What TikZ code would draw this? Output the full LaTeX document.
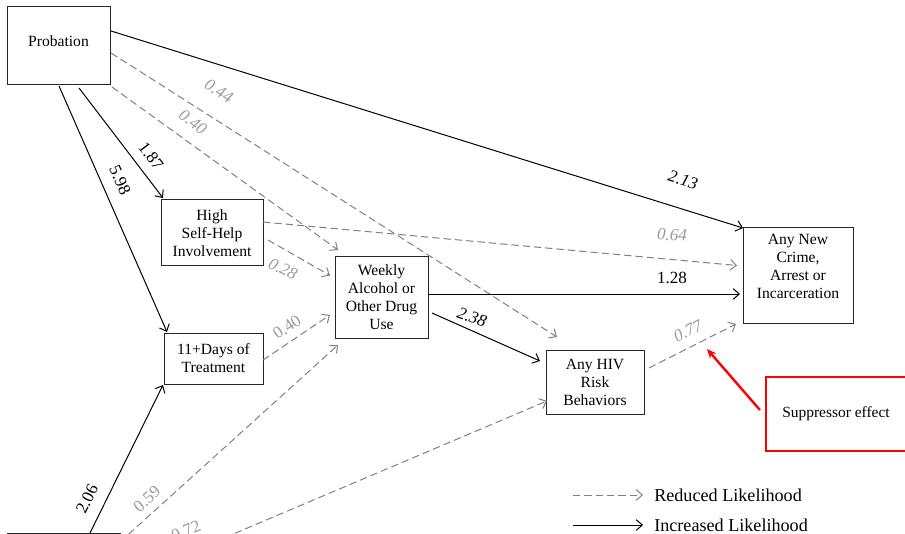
\documentclass[tikz,border=0pt]{standalone}
\usepackage{fontspec}
\setmainfont{Liberation Serif}
\usetikzlibrary{arrows.meta,calc}
\definecolor{dashgray}{HTML}{808080}
\definecolor{lblgray}{HTML}{9A9A9A}

\begin{document}
\begin{tikzpicture}[x=0.75pt,y=-0.75pt,
  box/.style={draw=black!85,line width=0.75pt,inner sep=0pt,outer sep=0pt,align=center,font=\fontsize{11.7}{13.5}\selectfont},
  inc/.style={line width=0.75pt,-{Straight Barb[length=4.5pt,width=8pt]}},
  decr/.style={dashgray,line width=0.75pt,dash pattern=on 5.5pt off 3pt,-{Straight Barb[length=4.5pt,width=8pt]}},
  wt/.style={inner sep=0pt,font=\fontsize{12.8}{14}\selectfont},
  gwt/.style={wt,text=lblgray},
  legend/.style={inner sep=0pt,anchor=west,font=\fontsize{13.6}{15}\selectfont}]
  \useasboundingbox (0,0) rectangle (905,534);
  \clip (0,0) rectangle (905,534);

  % boxes
  \node[box,minimum width=77.25pt,minimum height=58.5pt] (prob) at (58.5,46) {\raisebox{7pt}{Probation}};
  \node[box,minimum width=76.5pt,minimum height=49.5pt] (help) at (212,233) {High\\Self-Help\\Involvement};
  \node[box,minimum width=74.25pt,minimum height=38.25pt] (treat) at (213.5,358.5) {11+Days of\\Treatment};
  \node[box,minimum width=69.75pt,minimum height=60.75pt] (use) at (381.5,297.5) {Weekly\\Alcohol or\\Other Drug\\Use};
  \node[box,minimum width=73.5pt,minimum height=48pt] (hiv) at (595,382) {Any HIV\\Risk\\Behaviors};
  \node[box,minimum width=82.5pt,minimum height=71.25pt,text depth=13pt] (crime) at (798,275.5) {Any New\\Crime,\\Arrest or\\Incarceration};
  \node[box,minimum width=84.75pt,minimum height=60pt] (other) at (63.5,573) {};
  \node[draw=red,line width=1.6pt,inner sep=0pt,minimum width=105pt,minimum height=55.5pt,font=\fontsize{11.6}{13}\selectfont] (supp) at (836,414) {Suppressor effect};

  % paths from probation
  \draw[inc] ($(prob.north east)+(1,24)$) -- (crime.north west);
  \draw[decr] ($(prob.north east)+(1,46)$) -- ($(hiv.north west)+(11,-13)$);
  \draw[decr] ($(prob.south east)+(2,2)$) -- ($(use.north west)+(3,-7)$);
  \draw[inc] ($(prob.south)+(20.5,3)$) -- ($(help.north west)+(2,-2)$);
  \draw[inc] ($(prob.south)+(0.5,1)$) -- ($(treat.north west)+(3,-1)$);
  % mediators
  \draw[decr] ($(help.east)+(0,-11)$) -- ($(crime.west)+(-6,-10)$);
  \draw[decr] ($(help.east)+(5,7)$) -- ($(use.west)+(-5,-22)$);
  \draw[decr] ($(treat.east)+(0,1.5)$) -- ($(use.west)+(-5,17.5)$);
  \draw[inc] ($(use.east)+(0,-3.5)$) -- ($(crime.west)+(-3,18.5)$);
  \draw[inc] ($(use.east)+(4,15.5)$) -- ($(hiv.west)+(-6,-21)$);
  \draw[decr] ($(hiv.east)+(5,-14)$) -- ($(crime.south west)+(-7,1)$);
  % bottom box
  \draw[inc] ($(other.north west)+(83,0)$) -- ($(treat.south west)+(-1,1)$);
  \draw[decr] ($(other.north east)+(0,9)$) -- ($(use.south west)+(3,7)$);
  \draw[decr] ($(other.north east)+(0,49)$) -- ($(hiv.south west)+(1,-13)$);

  % suppressor
  \coordinate (hit) at (707,349);
  \draw[red,line width=1.8pt,-{Stealth[length=7pt,width=6pt]}] ($(supp.west)+(-5,-4)$) -- (hit);

  % labels
  \node[gwt,rotate=-32] (l044) at (219,91) {\itshape 0.44};
  \node[gwt,rotate=-36] (l040a) at (193,122) {\itshape 0.40};
  \node[wt,rotate=-17] (l213) at (683,180) {\itshape 2.13};
  \node[wt,rotate=-53] (l187) at (151,156) {1.87};
  \node[wt,rotate=-66] (l598) at (120,180) {5.98};
  \node[gwt,rotate=-3] (l064) at (672,235) {\itshape 0.64};
  \node[wt] (l128) at (672,278) {1.28};
  \node[gwt,rotate=-27] (l028) at (283,269) {\itshape 0.28};
  \node[gwt,rotate=34] (l040b) at (287,327) {0.40};
  \node[wt,rotate=-20] (l238) at (472,317) {\itshape 2.38};
  \node[gwt,rotate=27] (l077) at (688,331) {\itshape 0.77};
  \node[wt,rotate=64] (l206) at (87,499) {2.06};
  \node[gwt,rotate=42] (l059) at (147,499) {0.59};
  \node[gwt,rotate=23] (l072) at (186,531) {0.72};

  % legend
  \node[legend] (lred) at (654,495) {Reduced Likelihood};
  \node[legend] (linc) at (654,525) {Increased Likelihood};
  \draw[decr] ($(lred.west)+(-81,0)$) -- ($(lred.west)+(-11,0)$);
  \draw[inc] ($(linc.west)+(-81,0)$) -- ($(linc.west)+(-11,0)$);
\end{tikzpicture}
\end{document}
